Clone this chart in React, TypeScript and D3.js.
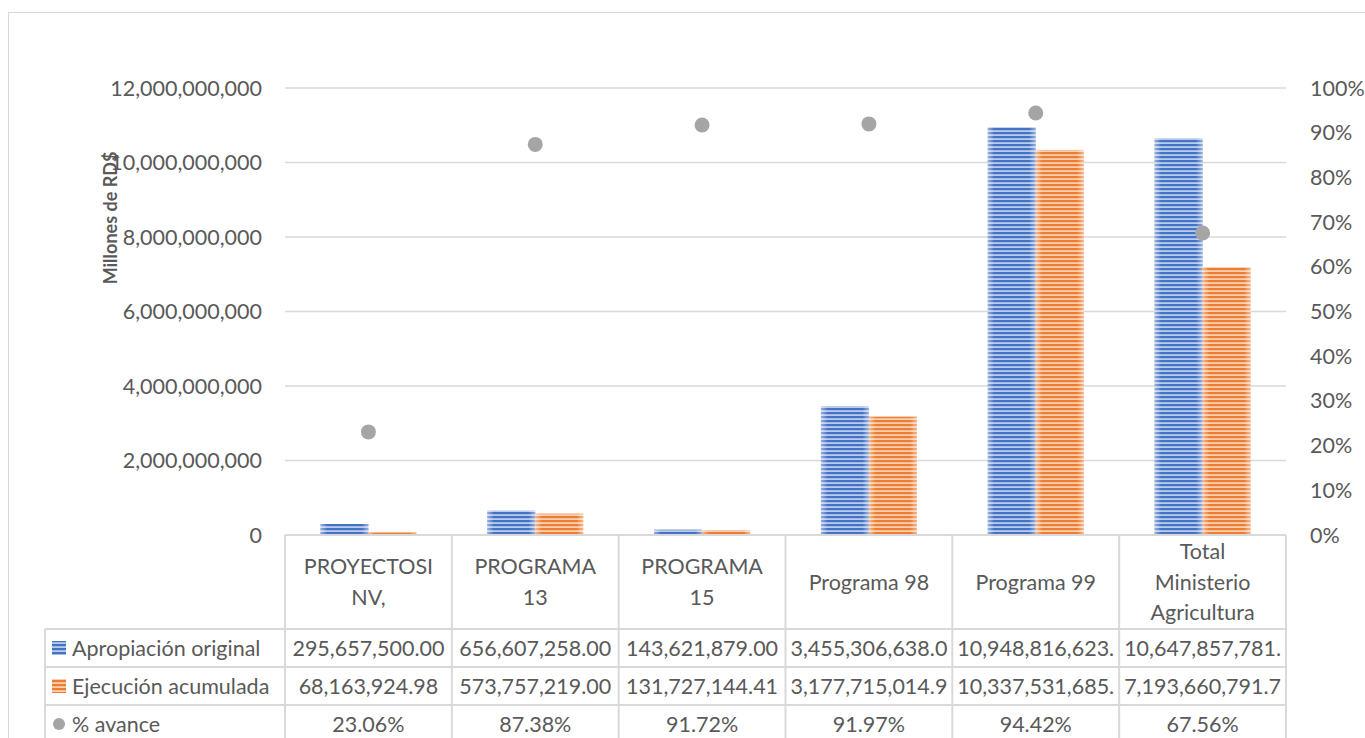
import React from "react";
import * as d3 from "d3";

const categories = ["PROYECTOSI NV,", "PROGRAMA 13", "PROGRAMA 15", "Programa 98", "Programa 99", "Total Ministerio Agricultura"];
const categoryLines = [["PROYECTOSI", "NV,"], ["PROGRAMA", "13"], ["PROGRAMA", "15"], ["Programa 98"], ["Programa 99"], ["Total", "Ministerio", "Agricultura"]];
const apropiacion = [295657500.0, 656607258.0, 143621879.0, 3455306638.0, 10948816623.0, 10647857781.0];
const ejecucion = [68163924.98, 573757219.0, 131727144.41, 3177715014.9, 10337531685.0, 7193660791.7];
const avance = [23.06, 87.38, 91.72, 91.97, 94.42, 67.56];
const apropiacionLabels = ["295,657,500.00", "656,607,258.00", "143,621,879.00", "3,455,306,638.0", "10,948,816,623.", "10,647,857,781."];
const ejecucionLabels = ["68,163,924.98", "573,757,219.00", "131,727,144.41", "3,177,715,014.9", "10,337,531,685.", "7,193,660,791.7"];
const avanceLabels = ["23.06%", "87.38%", "91.72%", "91.97%", "94.42%", "67.56%"];
const leftTicks = [0, 2000000000, 4000000000, 6000000000, 8000000000, 10000000000, 12000000000];
const rightTicks = [0, 10, 20, 30, 40, 50, 60, 70, 80, 90, 100];
const seriesNames = ["Apropiación original", "Ejecución acumulada", "% avance"];

const W = 1365, H = 738;
const plot = { left: 285, right: 1286, top: 88, bottom: 535 };
const rowEdges = [535, 629, 667, 705, 743];
const legendLeft = 45;
const font = "Lato, 'Open Sans', sans-serif";
const textColor = "#595959";
const gridColor = "#D9D9D9";
const fs = 21.5;

export default function App() {
  const x0 = d3.scaleBand<string>().domain(categories).range([plot.left, plot.right]).padding(0);
  const step = x0.bandwidth();
  const x1 = d3.scaleBand<string>().domain(["a", "e"]).range([0, step]).paddingInner(0).paddingOuter(0.738);
  const y = d3.scaleLinear().domain([0, 12000000000]).range([plot.bottom, plot.top]);
  const y2 = d3.scaleLinear().domain([0, 100]).range([plot.bottom, plot.top]);
  const fmt = d3.format(",");

  const rows = [
    { name: seriesNames[0], labels: apropiacionLabels, kind: "blue" },
    { name: seriesNames[1], labels: ejecucionLabels, kind: "orange" },
    { name: seriesNames[2], labels: avanceLabels, kind: "dot" },
  ];

  return (
    <svg width={W} height={H} style={{ position: "fixed", left: 0, top: 0, background: "#fff" }} fontFamily={font}>
      <defs>
        <pattern id="pBlue" patternUnits="userSpaceOnUse" width={4} height={4}>
          <rect width={4} height={4} fill="#B9CBEB" />
          <rect width={4} height={2.2} fill="#4472C4" />
        </pattern>
        <pattern id="pOrange" patternUnits="userSpaceOnUse" width={4} height={4}>
          <rect width={4} height={4} fill="#F9CFB2" />
          <rect width={4} height={2.2} fill="#ED7D31" />
        </pattern>
        <linearGradient id="edge" x1="0" x2="1" y1="0" y2="0">
          <stop offset="0" stopColor="#fff" stopOpacity={0.45} />
          <stop offset="0.14" stopColor="#fff" stopOpacity={0} />
          <stop offset="0.86" stopColor="#fff" stopOpacity={0} />
          <stop offset="1" stopColor="#fff" stopOpacity={0.45} />
        </linearGradient>
      </defs>
      <rect x={8.5} y={12.5} width={1400} height={800} fill="#fff" stroke={gridColor} strokeWidth={1} />

      {leftTicks.slice(1).map((t) => (
        <line key={t} x1={plot.left} x2={plot.right} y1={y(t)} y2={y(t)} stroke={gridColor} strokeWidth={1.5} />
      ))}

      {leftTicks.map((t) => (
        <text key={t} x={262} y={y(t)} dy="0.35em" textAnchor="end" fontSize={fs} fill={textColor}>{fmt(t)}</text>
      ))}
      {rightTicks.map((t) => (
        <text key={t} x={1310} y={y2(t)} dy="0.35em" textAnchor="start" fontSize={fs} fill={textColor}>{t + "%"}</text>
      ))}

      <text transform={`translate(117,218) rotate(-90)`} textAnchor="middle" fontSize={18} fontWeight="bold" fill={textColor}>Millones de RD$</text>

      {categories.map((c, i) => {
        const bx = x0(c)! + x1("a")!;
        const ex = x0(c)! + x1("e")!;
        const bw = x1.bandwidth();
        return (
          <g key={c}>
            <rect x={bx} y={y(apropiacion[i])} width={bw} height={y(0) - y(apropiacion[i])} fill="url(#pBlue)" />
            <rect x={bx} y={y(apropiacion[i])} width={bw} height={y(0) - y(apropiacion[i])} fill="url(#edge)" />
            <rect x={ex} y={y(ejecucion[i])} width={bw} height={y(0) - y(ejecucion[i])} fill="url(#pOrange)" />
            <rect x={ex} y={y(ejecucion[i])} width={bw} height={y(0) - y(ejecucion[i])} fill="url(#edge)" />
          </g>
        );
      })}

      <line x1={plot.left} x2={plot.right} y1={plot.bottom} y2={plot.bottom} stroke={gridColor} strokeWidth={2} />
      {rowEdges.slice(1, 4).map((r) => (
        <line key={r} x1={legendLeft} x2={plot.right} y1={r} y2={r} stroke={gridColor} strokeWidth={2} />
      ))}
      <line x1={legendLeft} x2={legendLeft} y1={rowEdges[1]} y2={H} stroke={gridColor} strokeWidth={2} />
      {categories.map((c) => (
        <line key={c} x1={x0(c)!} x2={x0(c)!} y1={plot.bottom} y2={H} stroke={gridColor} strokeWidth={2} />
      ))}
      <line x1={plot.right} x2={plot.right} y1={plot.bottom} y2={H} stroke={gridColor} strokeWidth={2} />

      {categories.map((c, i) => {
        const lines = categoryLines[i];
        const cy = (rowEdges[0] + rowEdges[1]) / 2;
        const lh = 30.5;
        return (
          <text key={c} x={x0(c)! + step / 2} textAnchor="middle" fontSize={fs} fill={textColor}>
            {lines.map((l, k) => (
              <tspan key={k} x={x0(c)! + step / 2} y={cy + (k - (lines.length - 1) / 2) * lh} dy="0.35em">{l}</tspan>
            ))}
          </text>
        );
      })}

      {rows.map((r, ri) => {
        const cy = (rowEdges[ri + 1] + rowEdges[ri + 2]) / 2;
        return (
          <g key={r.name}>
            {r.kind === "dot" ? (
              <circle cx={59} cy={cy} r={6} fill="#A5A5A5" />
            ) : (
              <rect x={52} y={cy - 7} width={14} height={14} fill={r.kind === "blue" ? "url(#pBlue)" : "url(#pOrange)"} />
            )}
            <text x={72} y={cy} dy="0.35em" fontSize={fs} fill={textColor}>{r.name}</text>
            {categories.map((c, i) => (
              <text key={c} x={x0(c)! + step / 2} y={cy} dy="0.35em" textAnchor="middle" fontSize={fs} fill={textColor}>{r.labels[i]}</text>
            ))}
          </g>
        );
      })}

      {categories.map((c, i) => (
        <circle key={c} cx={x0(c)! + step / 2} cy={y2(avance[i])} r={7.5} fill="#A5A5A5" />
      ))}
    </svg>
  );
}
